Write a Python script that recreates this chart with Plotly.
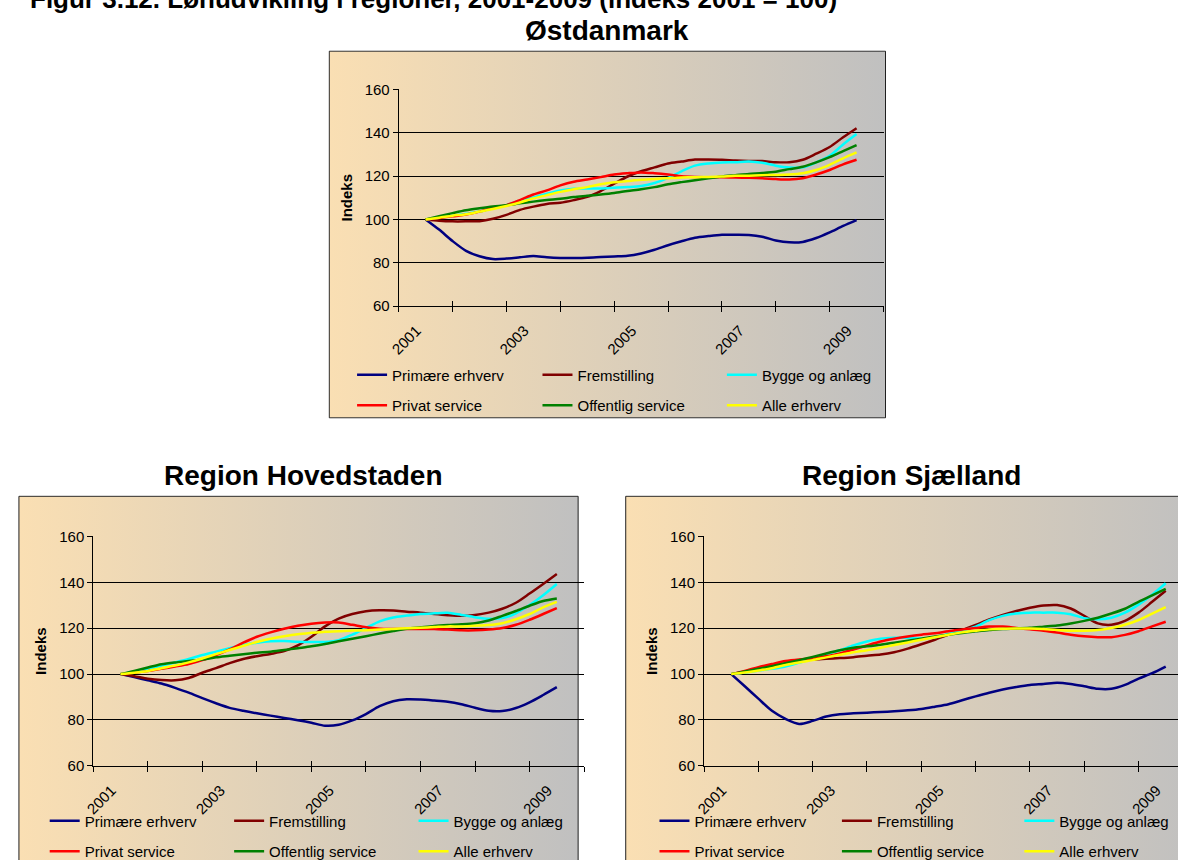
import plotly.graph_objects as go

W, H = 1178, 868

# quarterly observations, 2001 Q1 .. 2009 Q1
QUARTERS = [2001.0, 2001.25, 2001.5, 2001.75, 2002.0, 2002.25, 2002.5, 2002.75,
            2003.0, 2003.25, 2003.5, 2003.75, 2004.0, 2004.25, 2004.5, 2004.75,
            2005.0, 2005.25, 2005.5, 2005.75, 2006.0, 2006.25, 2006.5, 2006.75,
            2007.0, 2007.25, 2007.5, 2007.75, 2008.0, 2008.25, 2008.5, 2008.75,
            2009.0]
YEAR_TICKS = [2001, 2003, 2005, 2007, 2009]
YEAR_BOUNDS = [2000.5, 2001.5, 2002.5, 2003.5, 2004.5, 2005.5, 2006.5, 2007.5, 2008.5, 2009.5]
Y_TICKS = [60, 80, 100, 120, 140, 160]

SERIES = ['Primære erhverv', 'Fremstilling', 'Bygge og anlæg',
          'Privat service', 'Offentlig service', 'Alle erhverv']
COLORS = ['#000080', '#800000', '#00FFFF', '#FF0000', '#008000', '#FFFF00']

# Østdanmark
oest_primaere = [100, 95.3, 90.0, 85.5, 83.0, 81.7, 81.9, 82.5, 83.1, 82.5, 82.2, 82.2, 82.3, 82.6, 82.9, 83.2,
                 84.3, 86.0, 88.1, 89.9, 91.5, 92.3, 92.9, 92.9, 92.8, 92.0, 90.3, 89.4, 89.6, 91.4, 94.0, 97.0, 99.7]
oest_fremst = [100, 99.4, 99.1, 99.1, 99.2, 100.3, 102.1, 104.4, 105.9, 107.1, 107.7, 108.9, 110.4, 113.1, 116.5, 119.8,
               122.2, 124.0, 125.8, 126.7, 127.6, 127.6, 127.5, 127.2, 127.0, 126.9, 126.4, 126.4, 127.5, 130.3, 133.4, 137.9, 142.1]
oest_bygge = [100, 100.8, 101.7, 102.6, 103.6, 105.1, 106.6, 108.6, 110.1, 111.9, 113.4, 114.2, 114.3, 114.3, 114.6, 114.9,
              115.4, 116.8, 119.2, 122.2, 124.8, 125.8, 126.3, 126.4, 126.7, 126.1, 124.8, 124.0, 124.0, 126.3, 129.3, 134.6, 139.4]
oest_privat = [100, 100.6, 101.4, 102.3, 103.6, 105.4, 106.6, 108.9, 111.5, 113.4, 115.7, 117.4, 118.4, 119.5, 120.7, 121.3,
               121.7, 121.3, 120.7, 119.9, 119.6, 119.5, 119.5, 119.3, 119.2, 119.0, 118.6, 118.4, 119.0, 120.7, 122.8, 125.4, 127.5]
oest_offentlig = [100, 101.5, 102.9, 104.2, 105.1, 105.9, 106.5, 107.4, 108.2, 108.9, 109.5, 110.3, 110.9, 111.5, 112.2, 113.1,
                  113.9, 114.9, 116.2, 117.2, 118.1, 119.0, 119.8, 120.4, 121.0, 121.4, 122.0, 123.2, 124.3, 126.3, 128.7, 131.5, 134.3]
oest_alle = [100, 100.8, 101.7, 102.4, 103.6, 104.8, 106.2, 107.8, 109.7, 111.2, 112.7, 113.9, 114.9, 116.2, 117.1, 117.7,
             118.3, 118.7, 119.0, 119.3, 119.5, 119.6, 119.8, 120.1, 120.2, 120.4, 120.5, 120.7, 121.3, 122.8, 125.2, 128.2, 130.9]

# Region Hovedstaden
hov_primaere = [100, 98.7, 97.3, 95.9, 94.0, 91.9, 89.5, 87.3, 85.3, 84.0, 82.9, 81.9, 80.9, 79.9, 78.8, 77.5,
                77.9, 79.8, 82.6, 86.0, 88.2, 89.0, 88.9, 88.5, 88.0, 86.9, 85.3, 84.0, 83.9, 85.2, 87.7, 90.9, 94.3]
hov_fremst = [100, 99.1, 98.0, 97.4, 97.3, 98.3, 100.6, 102.6, 104.8, 106.6, 107.8, 108.8, 110.0, 112.5, 116.3, 120.8,
              124.2, 126.2, 127.4, 127.8, 127.7, 127.2, 126.8, 126.2, 125.7, 125.4, 125.8, 126.8, 128.5, 131.1, 135.1, 139.3, 143.6]
hov_bygge = [100, 100.9, 102.3, 103.7, 105.1, 106.6, 108.3, 109.8, 111.3, 112.7, 113.7, 114.3, 114.4, 114.1, 114.0, 114.0,
             114.8, 117.2, 120.1, 123.0, 124.7, 125.5, 126.2, 126.5, 126.7, 125.8, 124.8, 124.1, 124.4, 126.5, 130.1, 134.4, 139.3]
hov_privat = [100, 100.6, 101.3, 102.3, 103.3, 104.4, 106.1, 108.3, 110.8, 113.7, 116.3, 118.2, 119.8, 121.1, 122.0, 122.5,
              122.5, 121.5, 120.4, 119.8, 119.7, 119.7, 119.7, 119.7, 119.4, 119.1, 119.1, 119.4, 120.1, 121.5, 123.7, 126.2, 128.8]
hov_offentlig = [100, 101.4, 102.9, 104.3, 105.1, 105.7, 106.4, 107.3, 108.0, 108.7, 109.3, 109.8, 110.5, 111.3, 112.1, 113.1,
                 114.3, 115.4, 116.5, 117.7, 118.8, 119.8, 120.4, 121.0, 121.4, 121.7, 122.2, 123.4, 125.4, 127.5, 129.8, 131.9, 133.0]
hov_alle = [100, 100.6, 101.4, 102.6, 103.7, 105.1, 106.8, 108.7, 110.5, 112.3, 114.0, 115.4, 116.5, 117.4, 118.0, 118.5,
            118.7, 119.0, 119.1, 119.4, 119.7, 120.0, 120.2, 120.5, 120.8, 120.8, 121.1, 121.4, 122.2, 123.9, 126.2, 129.1, 131.5]

# Region Sjælland
sj_primaere = [100, 94.7, 89.3, 84.0, 80.5, 78.3, 79.6, 81.5, 82.5, 82.9, 83.2, 83.5, 83.8, 84.2, 84.8, 85.8,
               86.9, 88.6, 90.3, 91.9, 93.3, 94.4, 95.3, 95.7, 96.2, 95.7, 94.7, 93.6, 93.6, 95.3, 98.0, 100.4, 103.3]
sj_fremst = [100, 100.9, 102.1, 103.6, 104.7, 105.7, 106.4, 106.7, 107.0, 107.4, 108.0, 108.5, 109.5, 111.1, 113.0, 115.0,
             117.2, 119.2, 121.4, 123.8, 125.8, 127.5, 128.9, 129.9, 130.1, 128.6, 125.4, 122.1, 121.5, 123.2, 126.8, 131.5, 136.3]
sj_bygge = [100, 100.7, 101.6, 102.3, 103.3, 105.0, 106.7, 108.7, 110.4, 112.5, 114.2, 115.4, 115.8, 115.8, 115.5, 116.1,
            117.5, 118.9, 120.7, 123.5, 125.4, 126.4, 126.8, 126.8, 126.8, 126.1, 124.4, 123.9, 124.6, 126.8, 130.3, 134.6, 139.6]
sj_privat = [100, 101.4, 103.0, 104.4, 105.7, 106.4, 106.8, 107.8, 109.0, 110.7, 112.5, 114.2, 115.4, 116.4, 117.2, 117.8,
             118.7, 119.4, 120.1, 120.7, 120.7, 120.1, 119.5, 118.9, 118.1, 117.2, 116.5, 116.1, 116.1, 117.1, 118.7, 120.8, 122.8]
sj_offentlig = [100, 101.1, 102.3, 103.4, 104.7, 106.1, 107.5, 109.0, 110.4, 111.5, 112.1, 112.8, 113.7, 114.5, 115.4, 116.4,
                117.2, 117.9, 118.7, 119.2, 119.7, 119.9, 120.2, 120.7, 121.2, 122.1, 123.2, 124.6, 126.4, 128.5, 131.5, 134.3, 137.2]
sj_alle = [100, 100.7, 101.6, 102.6, 104.0, 105.1, 106.1, 107.3, 108.4, 109.5, 110.4, 111.5, 112.7, 113.8, 115.0, 116.1,
           117.2, 118.2, 118.9, 119.5, 119.8, 119.9, 119.9, 119.7, 119.2, 118.9, 118.9, 119.2, 120.1, 121.5, 123.6, 126.4, 129.2]

FONT = 'Arial, Liberation Sans, sans-serif'

# pixel layout of each panel: box = chart frame, plot = axis area,
# legend = (text x of the three columns, y of the two rows)
panels = [
    dict(title='Østdanmark', title_xy=(602, 22),
         data=[oest_primaere, oest_fremst, oest_bygge, oest_privat, oest_offentlig, oest_alle],
         box=(322, 43, 883, 417), plot=(392, 82, 881, 303), legend=((385, 572, 758), (374, 403))),
    dict(title='Region Hovedstaden', title_xy=(296, 476),
         data=[hov_primaere, hov_fremst, hov_bygge, hov_privat, hov_offentlig, hov_alle],
         box=(9, 497, 573, 900), plot=(84, 538, 579, 772), legend=((75, 261, 447), (829, 858))),
    dict(title='Region Sjælland', title_xy=(909, 476),
         data=[sj_primaere, sj_fremst, sj_bygge, sj_privat, sj_offentlig, sj_alle],
         box=(621, 497, 1200, 900), plot=(700, 538, 1193, 772), legend=((690, 874, 1058), (829, 858))),
]


def fx(px):
    return px / W


def fy(px):
    return 1 - px / H


def ref(letter, n):
    return letter if n == 1 else f'{letter}{n}'


def key(name, n):
    return name if n == 1 else f'{name}{n}'


fig = go.Figure()
layout = {}
annotations = []

for i, p in enumerate(panels):
    bg = i + 1
    xa = 4 + 3 * i
    ya = 4 + i

    # gradient chart frame on its own hidden axes (pixel coordinates)
    bx0, by0, bx1, by1 = p['box']
    vx0, vx1 = max(0, bx0 - 1), min(W, bx1 + 1)
    vy0, vy1 = max(0, by0 - 1), min(H, by1 + 1)
    fig.add_trace(go.Scatter(
        x=[bx0, bx1, bx1, bx0, bx0], y=[by0, by0, by1, by1, by0],
        xaxis=ref('x', bg), yaxis=ref('y', bg),
        mode='lines', fill='toself',
        line=dict(color='#202020', width=1),
        fillgradient=dict(type='horizontal',
                          colorscale=[[0, '#FADFB3'], [1, '#C0C0C0']]),
        hoverinfo='skip', showlegend=False
    ))
    layout[key('xaxis', bg)] = dict(domain=[fx(vx0), fx(vx1)], range=[vx0, vx1],
                                    visible=False, fixedrange=True, anchor=ref('y', bg))
    layout[key('yaxis', bg)] = dict(domain=[fy(vy1), fy(vy0)], range=[vy1, vy0],
                                    visible=False, fixedrange=True, anchor=ref('x', bg))

    # data axes
    px0, py0, px1, py1 = p['plot']
    vis_x1 = min(W, px1)
    x_end = 2000.5 + 9 * (vis_x1 - px0) / (px1 - px0)
    xr = [2000.5, x_end]
    xdom = [fx(px0), fx(vis_x1)]

    layout[key('xaxis', xa)] = dict(
        domain=xdom, range=xr, anchor=ref('y', ya),
        tickmode='array', tickvals=YEAR_BOUNDS, ticks='outside', ticklen=5,
        tickcolor='black', showticklabels=False, showgrid=False,
        showline=True, linecolor='black', linewidth=1, zeroline=False)
    layout[key('xaxis', xa + 1)] = dict(
        overlaying=ref('x', xa), range=xr, anchor=ref('y', ya),
        tickmode='array', tickvals=YEAR_BOUNDS, ticks='inside', ticklen=5,
        tickcolor='black', showticklabels=False, showgrid=False,
        showline=False, zeroline=False)
    layout[key('xaxis', xa + 2)] = dict(
        overlaying=ref('x', xa), range=xr, anchor=ref('y', ya),
        tickmode='array', tickvals=YEAR_TICKS, ticktext=[str(y) for y in YEAR_TICKS],
        ticks='', tickangle=-45, ticklabelstandoff=12, ticklabelshift=-9,
        tickfont=dict(size=15, color='black'),
        showgrid=False, showline=False, zeroline=False)
    layout[key('yaxis', ya)] = dict(
        domain=[fy(py1), fy(py0)], range=[60, 160], anchor=ref('x', xa),
        tickmode='array', tickvals=Y_TICKS, ticks='outside', ticklen=5,
        tickcolor='black', tickfont=dict(size=15, color='black'),
        showgrid=True, gridcolor='black', gridwidth=1,
        showline=True, linecolor='black', linewidth=1, zeroline=False,
        title=dict(text='<b>Indeks</b>', font=dict(size=15, color='black'), standoff=8))

    # empty traces so the overlay axes (cross ticks, year labels) get drawn
    for extra in (xa + 1, xa + 2):
        fig.add_trace(go.Scatter(x=[], y=[], xaxis=ref('x', extra), yaxis=ref('y', ya),
                                 showlegend=False, hoverinfo='skip'))

    # legends: one small vertical legend per column, two entries each
    col_x, (row1, row2) = p['legend']
    for c, tx in enumerate(col_x):
        n = 3 * i + c + 1
        layout[key('legend', n)] = dict(
            orientation='v', x=fx(tx - 40), xanchor='left',
            y=fy((row1 + row2) / 2), yanchor='middle',
            bgcolor='rgba(0,0,0,0)', borderwidth=0, tracegroupgap=8,
            font=dict(size=15, color='black', family=FONT), traceorder='grouped')

    for s, (name, color, vals) in enumerate(zip(SERIES, COLORS, p['data'])):
        fig.add_trace(go.Scatter(
            x=QUARTERS, y=vals, name=name, mode='lines',
            line=dict(color=color, width=2.5, shape='spline', smoothing=0.8),
            xaxis=ref('x', xa), yaxis=ref('y', ya),
            legend=key('legend', 3 * i + s % 3 + 1),
            legendgroup=f'p{i}s{s}', legendrank=s
        ))

    tx, ty = p['title_xy']
    annotations.append(dict(
        text=f'<b>{p["title"]}</b>', x=fx(tx), y=fy(ty), xref='paper', yref='paper',
        xanchor='center', yanchor='middle', showarrow=False,
        font=dict(size=28, color='black', family=FONT)))

# first heading line, cropped by the top edge of the picture
annotations.append(dict(
    text='<b>Figur 3.12. Lønudvikling i regioner, 2001-2009 (indeks 2001 = 100)</b>',
    x=fx(18), y=fy(-10), xref='paper', yref='paper', xanchor='left', yanchor='middle',
    showarrow=False, font=dict(size=26, color='black', family=FONT)))

fig.update_layout(
    width=W, height=H,
    margin=dict(l=0, r=0, t=0, b=0),
    paper_bgcolor='white',
    plot_bgcolor='rgba(0,0,0,0)',
    font=dict(family=FONT, color='black'),
    annotations=annotations,
    hovermode=False,
    **layout
)

fig.write_html("out.html",
               config={'displayModeBar': False},
               post_script="document.body.style.margin='0px';"
                           "document.documentElement.style.overflow='hidden';")
